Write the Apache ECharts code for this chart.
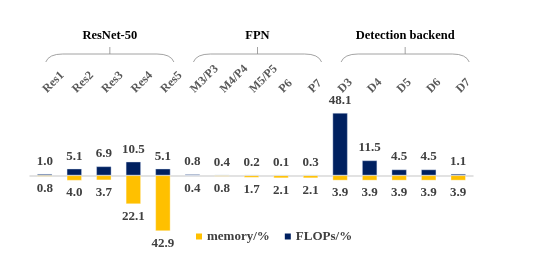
<!DOCTYPE html>
<html>
<head>
<meta charset="utf-8">
<script src="https://cdn.jsdelivr.net/npm/echarts@6/dist/echarts.min.js"></script>
<style>html,body{margin:0;padding:0;background:#fff}#c{width:545px;height:276px}</style>
</head>
<body>
<div id="c"></div>
<script>
var categories = ['Res1','Res2','Res3','Res4','Res5','M3/P3','M4/P4','M5/P5','P6','P7','D3','D4','D5','D6','D7'];
var flops = [1.0, 5.1, 6.9, 10.5, 5.1, 0.8, 0.4, 0.2, 0.1, 0.3, 48.1, 11.5, 4.5, 4.5, 1.1];
var memory = [0.8, 4.0, 3.7, 22.1, 42.9, 0.4, 0.8, 1.7, 2.1, 2.1, 3.9, 3.9, 3.9, 3.9, 3.9];
var groupNames = ['ResNet-50', 'FPN', 'Detection backend'];
var groupStart = [0, 5, 10];
var groupEnd = [4, 9, 14];

var FONT = '"Liberation Serif", "Times New Roman", serif';
var chart = echarts.init(document.getElementById('c'));
var labelStyle = {fontFamily: FONT, fontWeight: 'bold', fontSize: 13, color: '#404040'};
chart.setOption({
  animation: false,
  grid: {left: 30, right: 72, top: 113, bottom: 45},
  legend: {
    left: 191, top: 225,
    itemWidth: 6, itemHeight: 6, itemGap: 15,
    icon: 'rect',
    itemStyle: {borderWidth: 0},
    textStyle: {fontFamily: FONT, fontWeight: 'bold', fontSize: 13, color: '#404040'},
    data: ['memory/%', 'FLOPs/%']
  },
  xAxis: [{
    type: 'category', data: categories,
    axisLine: {onZero: true, lineStyle: {color: '#d9d9d9', width: 1.5}},
    axisTick: {show: false}, axisLabel: {show: false}
  }, {
    type: 'category', data: categories, position: 'top', offset: 14,
    axisLine: {show: false}, axisTick: {show: false},
    axisLabel: {interval: 0, rotate: -45, margin: 8, fontFamily: FONT, fontWeight: 'bold', fontSize: 12, color: '#595959'}
  }],
  yAxis: {type: 'value', min: -42.9, max: 48.1, show: false, splitLine: {show: false}},
  series: [{
    name: 'memory/%', type: 'bar', stack: 's', barWidth: 15,
    data: memory.map(function (v) { return -v; }),
    itemStyle: {color: '#FFC000', borderColor: 'rgba(255,255,255,0.7)', borderWidth: 0.5},
    label: Object.assign({show: true, position: 'bottom', distance: 6,
      formatter: function (p) { return Math.abs(p.value).toFixed(1); }}, labelStyle)
  }, {
    name: 'FLOPs/%', type: 'bar', stack: 's', barWidth: 15,
    data: flops,
    itemStyle: {color: '#002060', borderColor: 'rgba(220,230,245,0.8)', borderWidth: 0.5},
    label: Object.assign({show: true, position: 'top', distance: 6,
      formatter: function (p) { return p.value.toFixed(1); }}, labelStyle)
  }]
});

var graphics = [];
var lineStyle = {fill: null, stroke: '#8c8c8c', lineWidth: 0.8};
for (var i = 0; i < groupNames.length; i++) {
  var l = chart.convertToPixel({xAxisIndex: 0}, categories[groupStart[i]]) + 1;
  var r = chart.convertToPixel({xAxisIndex: 0}, categories[groupEnd[i]]) + 11;
  var m = (l + r) / 2;
  var yb = 54;
  graphics.push({type: 'bezierCurve', shape: {x1: l, y1: 62, cpx1: l + 3, cpy1: yb, x2: l + 17, y2: yb}, style: lineStyle});
  graphics.push({type: 'line', shape: {x1: l + 17, y1: yb, x2: r - 17, y2: yb}, style: lineStyle});
  graphics.push({type: 'bezierCurve', shape: {x1: r - 17, y1: yb, cpx1: r - 3, cpy1: yb, x2: r, y2: 62}, style: lineStyle});
  graphics.push({type: 'line', shape: {x1: m, y1: yb, x2: m, y2: 47}, style: lineStyle});
  graphics.push({
    type: 'text', x: m, y: 36,
    style: {text: groupNames[i], fontFamily: FONT, fontWeight: 'bold', fontSize: 12.5, fill: '#000',
      align: 'center', verticalAlign: 'middle'}
  });
}
chart.setOption({graphic: graphics});
</script>
</body>
</html>
